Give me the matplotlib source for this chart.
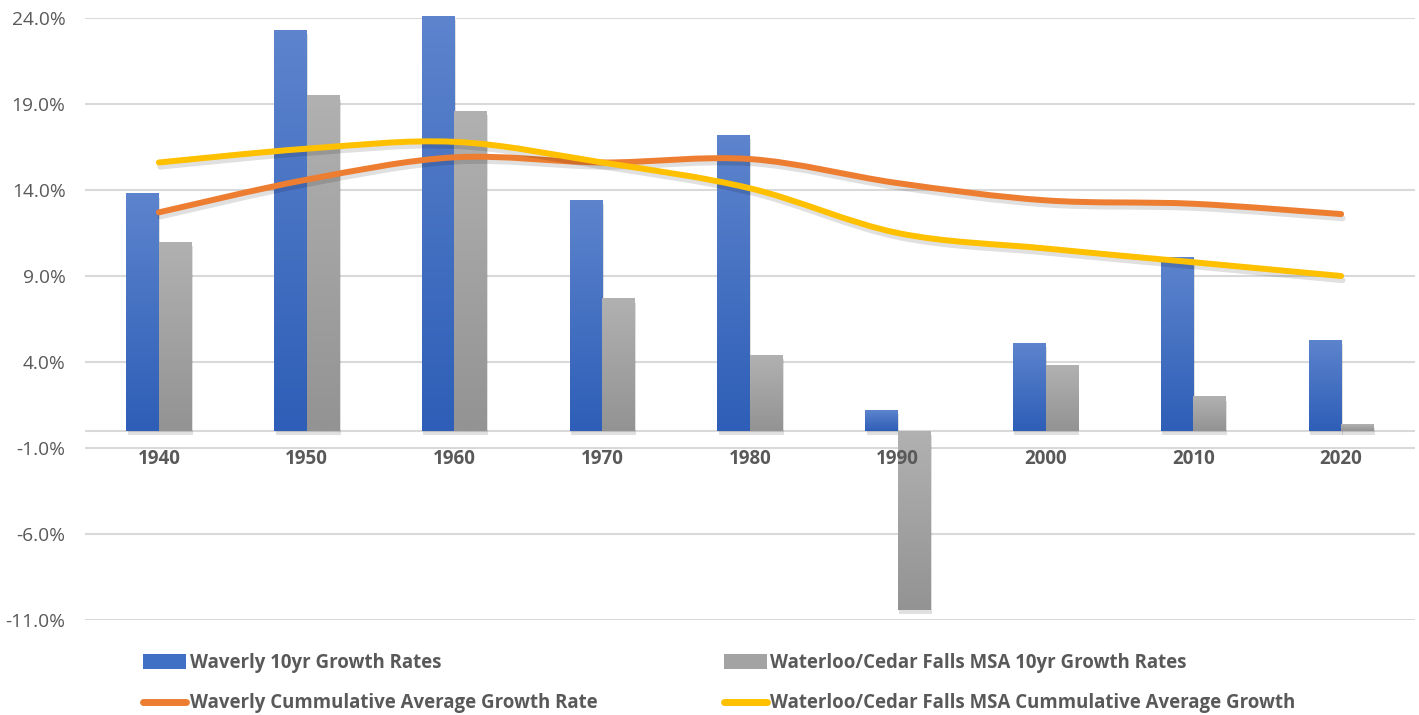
import numpy as np
import matplotlib
matplotlib.use("Agg")
import matplotlib.pyplot as plt
import matplotlib.patheffects as pe
from matplotlib.path import Path
from matplotlib.patches import PathPatch, Patch
from matplotlib.lines import Line2D
from matplotlib.colors import LinearSegmentedColormap

# data (percent)
decades = ["1940", "1950", "1960", "1970", "1980", "1990", "2000", "2010", "2020"]
waverly_10yr = [13.8, 23.3, 24.1, 13.4, 17.2, 1.2, 5.1, 10.1, 5.3]
msa_10yr = [11.0, 19.5, 18.6, 7.7, 4.4, -10.4, 3.8, 2.0, 0.4]
waverly_cum = [12.7, 14.6, 15.9, 15.6, 15.8, 14.4, 13.4, 13.2, 12.6]
msa_cum = [15.6, 16.4, 16.8, 15.6, 14.1, 11.5, 10.6, 9.8, 9.0]

labels = ["Waverly 10yr Growth Rates",
          "Waverly Cummulative Average Growth Rate",
          "Waterloo/Cedar Falls MSA 10yr Growth Rates",
          "Waterloo/Cedar Falls MSA Cummulative Average Growth"]

BLUE_TOP, BLUE_BOT = "#5d84cd", "#2e5eb7"
GRAY_TOP, GRAY_BOT = "#b1b1b1", "#939393"
ORANGE = "#ed7d31"
YELLOW = "#ffc000"
TXT = "#595959"
GRID = "#d9d9d9"

plt.rcParams["font.family"] = ["Open Sans", "DejaVu Sans"]

fig = plt.figure(figsize=(14.19, 7.15), dpi=100)
ax = fig.add_axes([85 / 1419, 1 - 620 / 715, 1330 / 1419, 602 / 715])

x = np.arange(len(decades))
w = 0.22


def gradient_bars(xpos, vals, top, bot):
    bars = ax.bar(xpos, vals, width=w, color=bot, linewidth=0, zorder=2)
    cmap = LinearSegmentedColormap.from_list("g", [bot, top])
    grad = np.linspace(0, 1, 256).reshape(-1, 1)
    for b in bars:
        b.set_path_effects([pe.SimplePatchShadow(offset=(1, -3), shadow_rgbFace="#000000", alpha=0.12),
                            pe.Normal()])
        x0, y0 = b.get_x(), b.get_y()
        x1, y1 = x0 + b.get_width(), y0 + b.get_height()
        lo, hi = min(y0, y1), max(y0, y1)
        im = ax.imshow(grad, extent=(x0, x1, lo, hi), origin="lower", cmap=cmap,
                       aspect="auto", zorder=2.1, interpolation="bilinear")
        im.set_clip_path(b)
    return bars


gradient_bars(x - w / 2, waverly_10yr, BLUE_TOP, BLUE_BOT)
gradient_bars(x + w / 2, msa_10yr, GRAY_TOP, GRAY_BOT)


def smooth_line(vals, color):
    # Excel-style smoothed line: cubic Bezier through each point
    p = np.column_stack([x, vals]).astype(float)
    ext = np.vstack([p[0], p, p[-1]])
    verts = [tuple(p[0])]
    codes = [Path.MOVETO]
    for i in range(len(p) - 1):
        p0, p1, p2, p3 = ext[i], ext[i + 1], ext[i + 2], ext[i + 3]
        c1 = p1 + (p2 - p0) / 6
        c2 = p2 - (p3 - p1) / 6
        verts += [tuple(c1), tuple(c2), tuple(p2)]
        codes += [Path.CURVE4] * 3
    patch = PathPatch(Path(verts, codes), facecolor="none", edgecolor=color, lw=4.3,
                      capstyle="round", joinstyle="round", zorder=3)
    patch.set_path_effects([pe.SimpleLineShadow(offset=(1, -3), shadow_color="#000000", alpha=0.12),
                            pe.Normal()])
    ax.add_patch(patch)


smooth_line(waverly_cum, ORANGE)
smooth_line(msa_cum, YELLOW)

ax.set_xlim(-0.5, len(decades) - 0.5)
ax.set_ylim(-11, 24)
ax.set_yticks(np.arange(-11, 25, 5))
ax.set_yticklabels([f"{v:.1f}%" for v in np.arange(-11, 25, 5)])
ax.grid(axis="y", color=GRID, lw=1.5, zorder=0)
ax.set_axisbelow(True)
ax.axhline(0, color=GRID, lw=1.5, zorder=1)

for s in ["top", "right", "left"]:
    ax.spines[s].set_visible(False)
ax.spines["bottom"].set_position(("data", 0))
ax.spines["bottom"].set_visible(False)
ax.set_xticks(x)
ax.set_xticklabels(decades, fontweight="bold")
ax.tick_params(axis="x", length=0, pad=13, labelsize=13.5, labelcolor=TXT)
ax.tick_params(axis="y", length=0, pad=14, labelsize=13.8, labelcolor=TXT)
ax.xaxis.set_zorder(5)
ax.set_facecolor("white")

handles = [Patch(facecolor="#4070c5"),
           Line2D([0], [0], color=ORANGE, lw=5, solid_capstyle="round"),
           Patch(facecolor="#a3a3a3"),
           Line2D([0], [0], color=YELLOW, lw=5, solid_capstyle="round")]
leg = fig.legend(handles, labels, ncol=2, loc="upper left",
                 bbox_to_anchor=(143 / 1419, 1 - 653 / 715), frameon=False,
                 prop={"weight": "bold", "size": 13.4}, handlelength=2.3, handleheight=0.8,
                 handletextpad=0.2, columnspacing=6.8, labelspacing=1.1,
                 borderpad=0, borderaxespad=0)
for t in leg.get_texts():
    t.set_color(TXT)

fig.savefig("out.png", dpi=100, facecolor="white")
